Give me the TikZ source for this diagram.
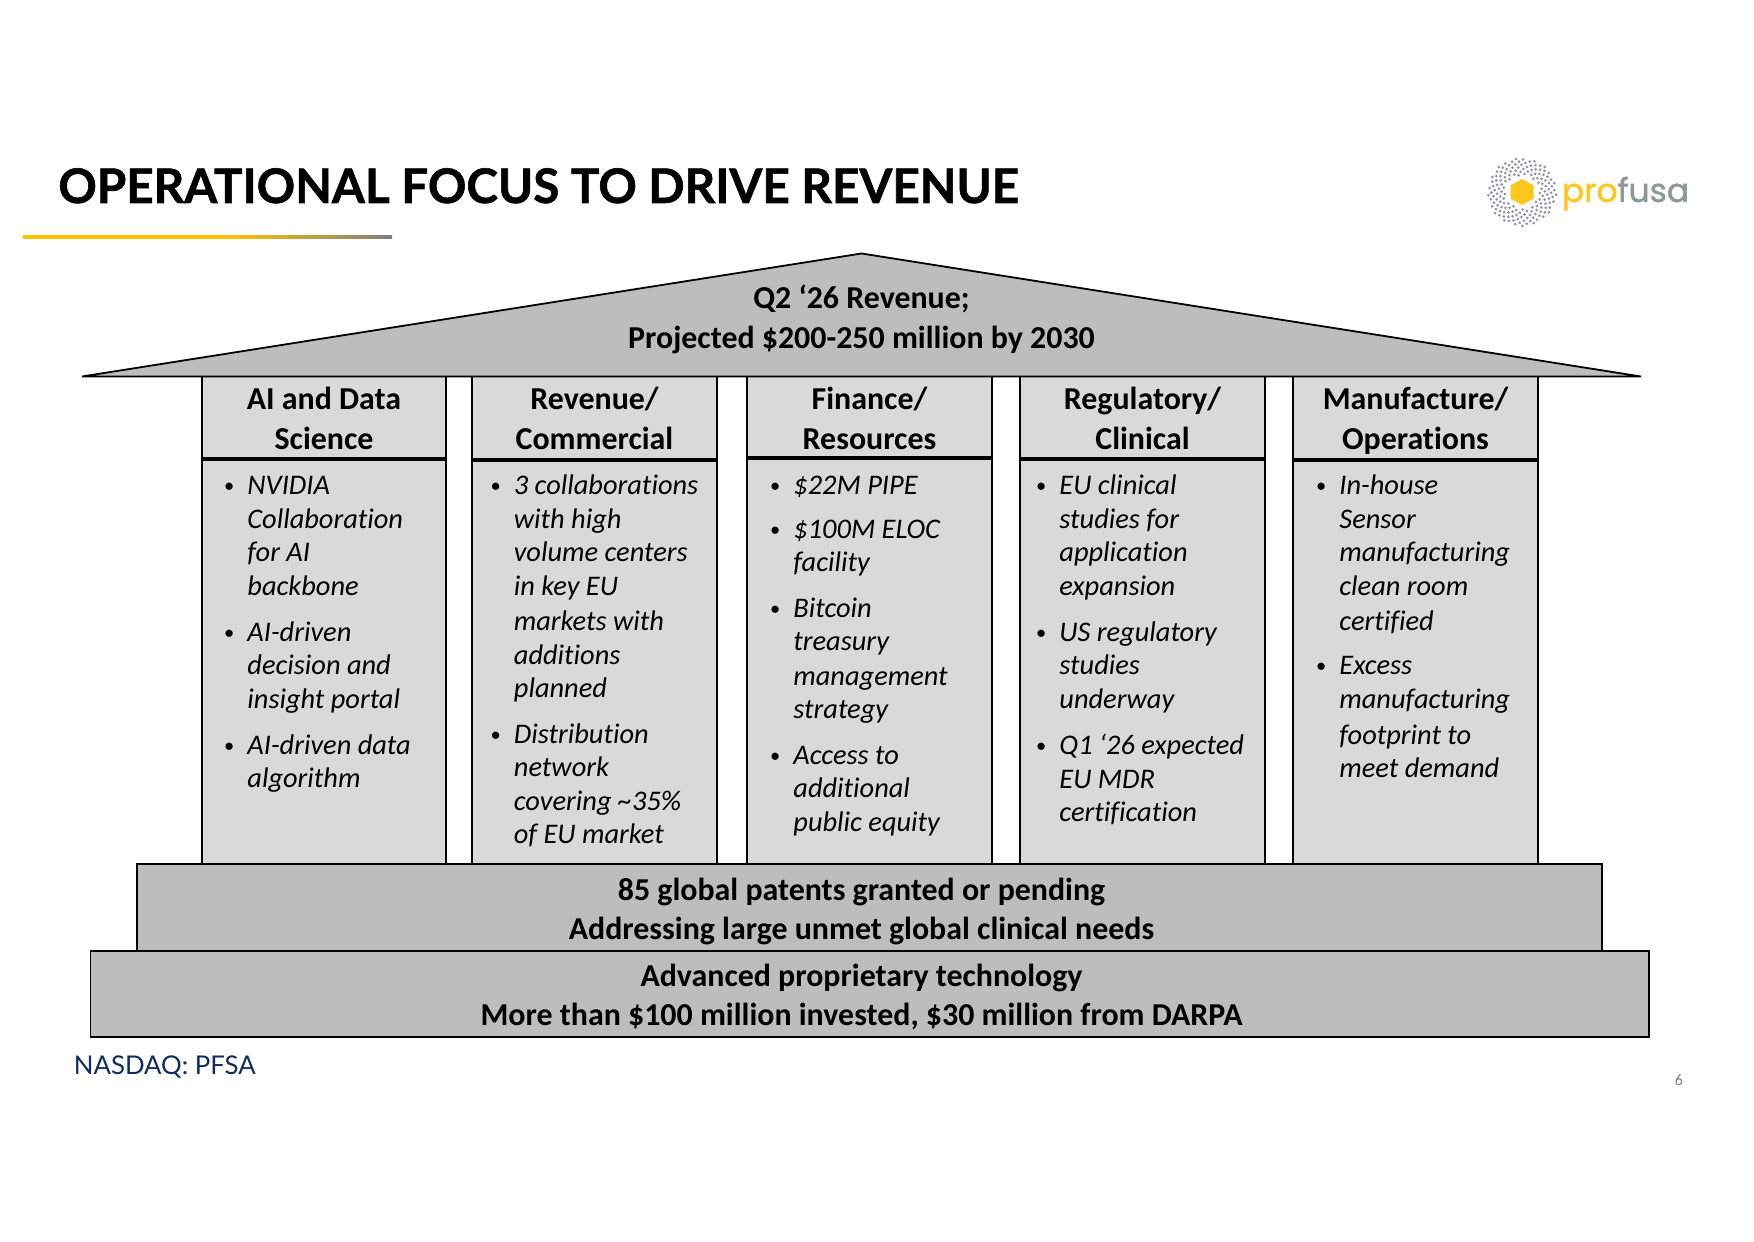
\documentclass[tikz,border=0pt]{standalone}
\usepackage{fontspec}
\setmainfont[Ligatures=NoCommon]{Carlito}
\newfontfamily\titlefont[BoldFeatures={FakeBold=1.2}]{Lato}
\newfontfamily\logofont[FakeBold=1.2]{Poppins}
\definecolor{colfill}{HTML}{D9D9D9}
\definecolor{roofgrey}{HTML}{BDBDBD}
\definecolor{logoyellow}{HTML}{FFC61E}
\definecolor{logogrey}{HTML}{8E9898}
\definecolor{rulegold}{HTML}{FFC000}
\definecolor{rulegrey}{HTML}{7F7F7F}
\definecolor{navy}{HTML}{0F2D62}
\tikzset{
  x=0.5pt,y=-0.5pt,
  bar/.style={draw=black,line width=0.9pt,fill=roofgrey},
  colbox/.style={draw=black,line width=0.9pt,fill=colfill},
  headrule/.style={draw=black,line width=1.6pt},
  headtext/.style={align=center,inner sep=0pt,font=\fontsize{15.95}{20}\selectfont\bfseries},
  bandtext/.style={align=center,inner sep=0pt,font=\fontsize{15.95}{19.6}\selectfont\bfseries},
  bodytext/.style={align=left,inner sep=0pt,anchor=north west,font=\fontsize{14.2}{16.75}\selectfont\itshape},
}
\newcommand{\bul}[4]{\node[bodytext] (#1) at (#2,#3-20+1) {\rule{0pt}{10pt}\llap{\upshape\raisebox{1pt}{\scalebox{0.72}{\textbullet}}\hspace{6.6pt}}#4};}
\begin{document}
\begin{tikzpicture}
\path[use as bounding box,fill=white] (0,0) rectangle (1754,1241);
% title
\node[anchor=base west,inner sep=0pt,font=\fontsize{23.8}{28}\titlefont\bfseries] (title) at (58,203) {OPERATIONAL FOCUS TO DRIVE REVENUE};
\fill[rulegold] (23,235.5) rectangle (230,238.5);
\shade[left color=rulegold,right color=rulegrey] (230,235.5) rectangle (392,238.5);
% logo
\foreach \i in {48,...,200}{
  \pgfmathsetmacro{\rr}{2.42*sqrt(\i)}
  \pgfmathsetmacro{\aa}{360*mod(\i*0.381966,1)}
  \fill[logogrey] (1522,192) ++({\rr*cos(\aa)},{\rr*sin(\aa)}) circle[radius=1.5];
}
\fill[logoyellow] (1522,179) -- (1533.5,185.5) -- (1533.5,198.5) -- (1522,205) -- (1510.5,198.5) -- (1510.5,185.5) -- cycle;
\node[anchor=base west,inner sep=0pt,font=\fontsize{16.5}{20}\logofont] (logo) at (1561.5,202) {\textcolor{logoyellow}{pro}\textcolor{logogrey}{fusa}};
% columns
\foreach \xa/\xb/\nm in {202/446/a,472/717/b,747/992/c,1020/1265/d,1293/1538/e}{
  \path[colbox] (\xa,376.5) rectangle (\xb,864);
}
\draw[headrule] (202,459) -- (446,459);
\draw[headrule] (473,460) -- (718,460);
\draw[headrule] (747,458) -- (992,458);
\draw[headrule] (1020,459) -- (1265,459);
\draw[headrule] (1294,460) -- (1539,460);
% roof
\path[bar,line join=miter] (861.5,253.5) -- (1641,376.5) -- (82,376.5) -- cycle;
\node[bandtext,font=\fontsize{15.95}{20}\selectfont\bfseries] (roof) at (861.5,319.5) {Q2 ‘26 Revenue;\\Projected \$200-250 million by 2030};
% bands
\path[bar] (137,864) rectangle (1602,951);
\path[bar] (90.5,951) rectangle (1649,1037);
\node[bandtext] (band1) at (861.5,911.5) {85 global patents granted or pending\\Addressing large unmet global clinical needs};
\node[bandtext] (band2) at (861.5,997) {Advanced proprietary technology\\More than \$100 million invested, \$30 million from DARPA};
% headers
\node[headtext] (h1) at (324,421) {\strut AI and Data\\\strut Science};
\node[headtext] (h2) at (594.5,421) {\strut Revenue/\\\strut Commercial};
\node[headtext] (h3) at (869.5,421) {\strut Finance/\\\strut Resources};
\node[headtext] (h4) at (1142.5,421) {\strut Regulatory/\\\strut Clinical};
\node[headtext] (h5) at (1415.5,421) {\strut Manufacture/\\\strut Operations};
% column 1
\bul{a1}{247}{493.3}{NVIDIA\\Collaboration\\for AI\\backbone}
\bul{a2}{247}{640}{AI-driven\\decision and\\insight portal}
\bul{a3}{247}{753}{AI-driven data\\algorithm}
% column 2
\bul{b1}{513.5}{493.3}{3 collaborations\\with high\\volume centers\\in key EU\\[1pt]markets with\\additions\\planned}
\bul{b2}{513.5}{741.6}{Distribution\\network\\covering \textasciitilde 35\%\\of EU market}
% column 3
\bul{c1}{793}{493.3}{\$22M PIPE}
\bul{c2}{793}{537}{\$100M ELOC\\facility}
\bul{c3}{793}{616}{Bitcoin\\treasury\\[0.5pt]management\\strategy}
\bul{c4}{793}{763}{Access to\\additional\\public equity}
% column 4
\bul{d1}{1059}{493.3}{EU clinical\\studies for\\application\\expansion}
\bul{d2}{1059}{640}{US regulatory\\studies\\underway}
\bul{d3}{1059}{753}{Q1 ‘26 expected\\EU MDR\\certification}
% column 5
\bul{e1}{1339}{493.3}{In-house\\Sensor\\manufacturing\\clean room\\[1pt]certified}
\bul{e2}{1339}{673}{Excess\\[0.5pt]manufacturing\\[1pt]footprint to\\meet demand}
% footer
\node[anchor=base west,inner sep=0pt,text=navy,font=\fontsize{12.9}{15}\titlefont] (nasdaq) at (73.5,1074) {NASDAQ: PFSA};
\node[anchor=base,inner sep=0pt,text=rulegrey,font=\fontsize{8}{9}\selectfont] (pagenum) at (1679,1085) {6};
\end{tikzpicture}
\end{document}
